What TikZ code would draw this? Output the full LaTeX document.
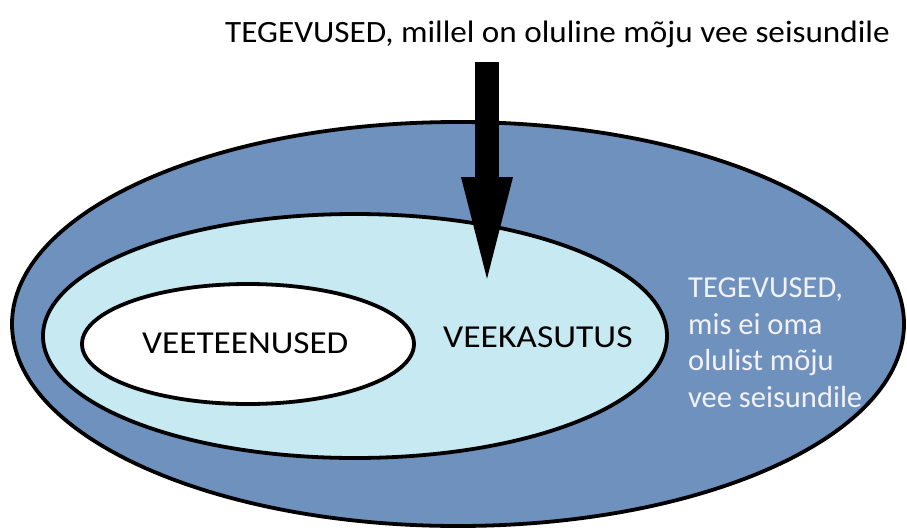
\documentclass[tikz,border=0pt]{standalone}
\usepackage{fontspec}
\setmainfont{Carlito}
\usetikzlibrary{arrows.meta,shapes.geometric}
\definecolor{outerblue}{RGB}{111,145,190}
\definecolor{lightcyan}{RGB}{198,233,242}
\definecolor{lighttext}{RGB}{242,242,246}
\tikzset{
  ring/.style={draw=black, line width=3.8pt},
  lbl/.style={inner sep=0pt, font=\fontsize{32}{36.5}\selectfont},
}
\begin{document}
\begin{tikzpicture}[x=1pt,y=-1pt]
\useasboundingbox (0,0) rectangle (907,530);
\fill[white] (0,0) rectangle (907,530);
% ellipses
\draw[ring, fill=outerblue] (458,324) ellipse [x radius=446, y radius=202];
\draw[ring, fill=lightcyan] (355,336) ellipse [x radius=312, y radius=122];
\draw[ring, fill=white] (248,344) ellipse [x radius=166, y radius=60];
% arrow
\coordinate (arrtop) at (487,62);
\coordinate (arrtip) at (487,300);
\draw[line width=24pt, -{Triangle[length=123pt,width=43pt]}] (arrtop) -- (arrtip);
% texts
\node[lbl, anchor=base west, font=\fontsize{31}{36}\selectfont] (top) at (225,42) {\scalebox{1.07}[1]{TEGEVUSED, millel on oluline mõju vee seisundile}};
\node[lbl, anchor=base west] (veeteen) at (142,353) {\scalebox{1.10}[1]{VEETEENUSED}};
\node[lbl, anchor=base west] (veekas) at (443,347) {\scalebox{1.11}[1]{VEEKASUTUS}};
\node[lbl, anchor=north west, align=left, text=lighttext, font=\fontsize{30.5}{36.5}\selectfont] (right) at (688,278) {TEGEVUSED,\\mis ei oma\\olulist mõju\\vee seisundile};
\end{tikzpicture}
\end{document}
